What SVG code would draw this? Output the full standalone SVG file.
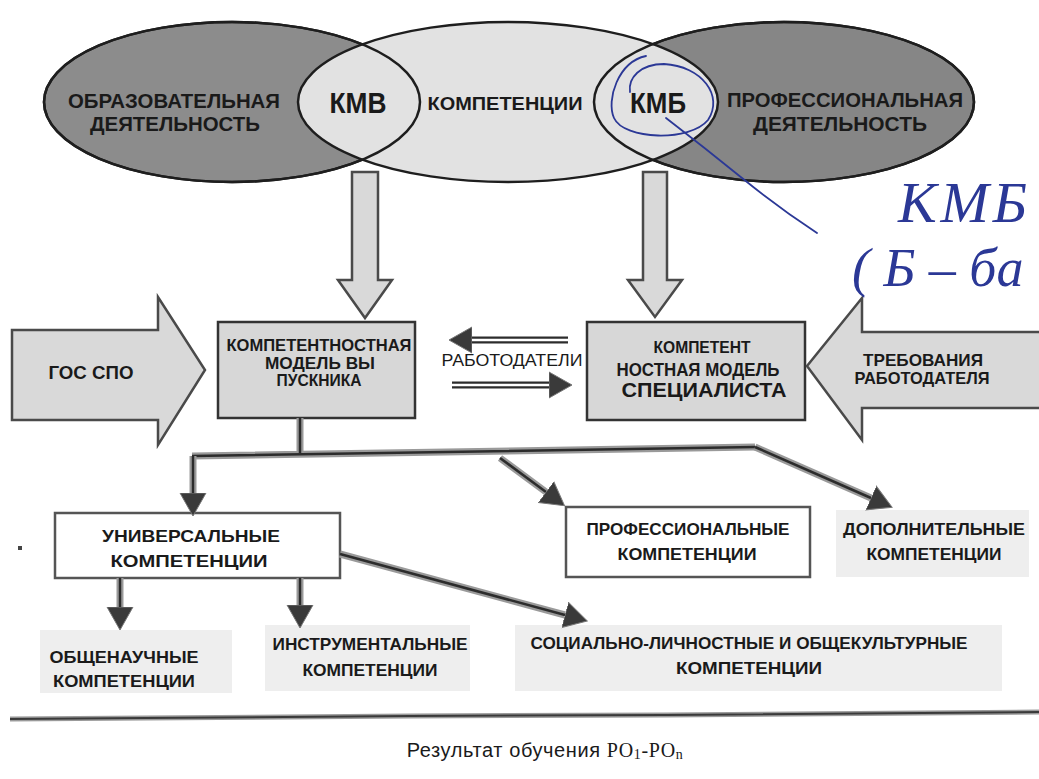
<svg xmlns="http://www.w3.org/2000/svg" width="1039" height="779" viewBox="0 0 1039 779">
<style>
text{font-family:"Liberation Sans",Arial,sans-serif;fill:#1a1a1a;text-anchor:middle}
.b{font-weight:bold}
.ell{stroke:#1e1e1e;stroke-width:2.5}
.blk{fill:#d9d9d9;stroke:#4a4a4a;stroke-width:2.5}
.box{fill:#d7d7d7;stroke:#333;stroke-width:2.5}
.wbox{fill:#fff;stroke:#555;stroke-width:2.5}
.pale{fill:#eeeeee}
.co{fill:none;stroke:#9a9a9a;stroke-width:7}
.ci{fill:none;stroke:#2c2c2c;stroke-width:2.5}
.ro{fill:none;stroke:#2c2c2c;stroke-width:7}
.ri{fill:none;stroke:#fff;stroke-width:2.5}
.ink{fill:none;stroke:#2b3896;stroke-width:1.8;stroke-linecap:round}
.hand{font-family:"Liberation Serif",serif;font-style:italic;fill:#2b3896;text-anchor:start}
</style>
<defs>
<marker id="ah" viewBox="0 -14 24 28" refX="0" refY="0" markerWidth="24" markerHeight="28" markerUnits="userSpaceOnUse" orient="auto">
<path d="M0,-13 L23,0 L0,13 Z" fill="#3a3a3a" stroke="#777" stroke-width="1"/>
</marker>
</defs>

<g id="venn">
<ellipse cx="232" cy="102" rx="188" ry="80" fill="#8c8c8c" class="ell"/>
<ellipse cx="784" cy="102" rx="190" ry="80" fill="#868686" class="ell"/>
<ellipse cx="508" cy="102" rx="210" ry="80" fill="#e2e2e2" class="ell"/>
<ellipse cx="232" cy="102" rx="188" ry="80" fill="none" class="ell"/>
<ellipse cx="784" cy="102" rx="190" ry="80" fill="none" class="ell"/>
<text x="174" y="108" class="b" font-size="21" textLength="212" lengthAdjust="spacingAndGlyphs">ОБРАЗОВАТЕЛЬНАЯ</text>
<text x="175" y="131" class="b" font-size="21" textLength="170" lengthAdjust="spacingAndGlyphs">ДЕЯТЕЛЬНОСТЬ</text>
<text x="358" y="113" class="b" font-size="30" textLength="57" lengthAdjust="spacingAndGlyphs">КМВ</text>
<text x="505" y="110" class="b" font-size="19" textLength="155" lengthAdjust="spacingAndGlyphs">КОМПЕТЕНЦИИ</text>
<text x="658" y="113" class="b" font-size="30" textLength="56" lengthAdjust="spacingAndGlyphs">КМБ</text>
<text x="845" y="107" class="b" font-size="20" textLength="236" lengthAdjust="spacingAndGlyphs">ПРОФЕССИОНАЛЬНАЯ</text>
<text x="840" y="131" class="b" font-size="20" textLength="174" lengthAdjust="spacingAndGlyphs">ДЕЯТЕЛЬНОСТЬ</text>
</g>

<g id="arrow-kmv">
<polygon class="blk" points="352,172 378,172 378,280 392,280 365,318 338,280 352,280"/>
</g>
<g id="arrow-kmb">
<polygon class="blk" points="643,172 667,172 667,280 682,280 655,317 628,280 643,280"/>
</g>

<g id="gos-spo">
<polygon class="blk" points="12,330 158,330 158,297 205,370 158,445 158,420 12,420"/>
<text x="91" y="379" class="b" font-size="18" textLength="85" lengthAdjust="spacingAndGlyphs">ГОС  СПО</text>
</g>

<g id="model-graduate">
<rect class="box" x="218" y="322" width="197" height="96"/>
<text x="319" y="351" class="b" font-size="17" textLength="185" lengthAdjust="spacingAndGlyphs">КОМПЕТЕНТНОСТНАЯ</text>
<text x="320" y="369" class="b" font-size="17" textLength="110" lengthAdjust="spacingAndGlyphs">МОДЕЛЬ ВЫ</text>
<text x="319" y="386" class="b" font-size="17" textLength="85" lengthAdjust="spacingAndGlyphs">ПУСКНИКА</text>
</g>

<g id="model-specialist">
<rect class="box" x="587" y="322" width="218" height="98"/>
<text x="702" y="353" class="b" font-size="17" textLength="97" lengthAdjust="spacingAndGlyphs">КОМПЕТЕНТ</text>
<text x="698" y="376" class="b" font-size="18" textLength="163" lengthAdjust="spacingAndGlyphs">НОСТНАЯ МОДЕЛЬ</text>
<text x="704" y="397" class="b" font-size="20" textLength="165" lengthAdjust="spacingAndGlyphs">СПЕЦИАЛИСТА</text>
</g>

<g id="employer-req">
<polygon class="blk" points="1045,332 862,332 862,298 807,366 862,440 862,408 1045,408"/>
<text x="923" y="366" class="b" font-size="17" textLength="120" lengthAdjust="spacingAndGlyphs">ТРЕБОВАНИЯ</text>
<text x="922" y="384" class="b" font-size="17" textLength="135" lengthAdjust="spacingAndGlyphs">РАБОТОДАТЕЛЯ</text>
</g>

<g id="universal">
<rect class="wbox" x="55" y="513" width="285" height="65"/>
<text x="191" y="542" class="b" font-size="17" textLength="178" lengthAdjust="spacingAndGlyphs">УНИВЕРСАЛЬНЫЕ</text>
<text x="189" y="567" class="b" font-size="17" textLength="157" lengthAdjust="spacingAndGlyphs">КОМПЕТЕНЦИИ</text>
</g>

<g id="professional">
<rect class="wbox" x="566" y="507" width="244" height="70"/>
<text x="688" y="535" class="b" font-size="17" textLength="203" lengthAdjust="spacingAndGlyphs">ПРОФЕССИОНАЛЬНЫЕ</text>
<text x="687" y="560" class="b" font-size="17" textLength="139" lengthAdjust="spacingAndGlyphs">КОМПЕТЕНЦИИ</text>
</g>

<g id="additional">
<rect class="pale" x="836" y="510" width="193" height="67" fill="#f5f5f5"/>
<text x="934" y="535" class="b" font-size="17" textLength="182" lengthAdjust="spacingAndGlyphs">ДОПОЛНИТЕЛЬНЫЕ</text>
<text x="934" y="560" class="b" font-size="17" textLength="135" lengthAdjust="spacingAndGlyphs">КОМПЕТЕНЦИИ</text>
</g>

<g id="general-science">
<rect class="pale" x="40" y="630" width="192" height="63" fill="#e8e8e8"/>
<text x="124" y="663" class="b" font-size="17" textLength="149" lengthAdjust="spacingAndGlyphs">ОБЩЕНАУЧНЫЕ</text>
<text x="124" y="687" class="b" font-size="17" textLength="142" lengthAdjust="spacingAndGlyphs">КОМПЕТЕНЦИИ</text>
</g>

<g id="instrumental">
<rect class="pale" x="265" y="625" width="205" height="66" fill="#e8e8e8"/>
<text x="370" y="650" class="b" font-size="17" textLength="195" lengthAdjust="spacingAndGlyphs">ИНСТРУМЕНТАЛЬНЫЕ</text>
<text x="370" y="676" class="b" font-size="17" textLength="135" lengthAdjust="spacingAndGlyphs">КОМПЕТЕНЦИИ</text>
</g>

<g id="social">
<rect class="pale" x="515" y="625" width="487" height="66" fill="#e8e8e8"/>
<text x="749" y="649" class="b" font-size="17" textLength="437" lengthAdjust="spacingAndGlyphs">СОЦИАЛЬНО-ЛИЧНОСТНЫЕ И ОБЩЕКУЛЬТУРНЫЕ</text>
<text x="749" y="674" class="b" font-size="17" textLength="146" lengthAdjust="spacingAndGlyphs">КОМПЕТЕНЦИИ</text>
</g>

<g id="connectors">
<path class="ro" d="M568,340 L472,340"/>
<path class="ri" d="M568,340 L472,340" marker-end="url(#ah)"/>
<path class="ro" d="M452,385 L549,385"/>
<path class="ri" d="M452,385 L549,385" marker-end="url(#ah)"/>
<text x="512" y="366" font-size="16" textLength="141" lengthAdjust="spacingAndGlyphs">РАБОТОДАТЕЛИ</text>

<path class="co" d="M300,418 L300,453 M192,456 L755,447"/>
<path class="ci" d="M300,418 L300,453 M192,456 L755,447"/>
<path class="co" d="M193,456 L193,493"/>
<path class="ci" d="M193,456 L193,493" marker-end="url(#ah)"/>
<path class="co" d="M500,458 L546,492"/>
<path class="ci" d="M500,458 L546,492" marker-end="url(#ah)"/>
<path class="co" d="M755,447 L871,498"/>
<path class="ci" d="M755,447 L871,498" marker-end="url(#ah)"/>
<path class="co" d="M120,578 L120,607"/>
<path class="ci" d="M120,578 L120,607" marker-end="url(#ah)"/>
<path class="co" d="M300,578 L300,605"/>
<path class="ci" d="M300,578 L300,605" marker-end="url(#ah)"/>
<path class="co" d="M340,554 L565,615"/>
<path class="ci" d="M340,554 L565,615" marker-end="url(#ah)"/>
</g>

<g id="result">
<path d="M10,719 L145,718 L410,716 L665,715 L1039,712" fill="none" stroke="#9a9a9a" stroke-width="5"/>
<path d="M10,719 L145,718 L410,716 L665,715 L1039,712" fill="none" stroke="#3a3a3a" stroke-width="2"/>
<text x="545" y="757" font-size="20" letter-spacing="0.6">Результат обучения <tspan font-family="Liberation Serif">РО</tspan><tspan font-family="Liberation Serif" font-size="14" dy="2">1</tspan><tspan font-family="Liberation Serif" dy="-2">-РО</tspan><tspan font-family="Liberation Serif" font-size="14" dy="2">n</tspan></text>
</g>

<rect x="18" y="546" width="4" height="4" fill="#444"/>

<g id="handwriting">
<path class="ink" d="M646,56 C618,62 606,100 614,118 C624,140 690,142 708,120 C724,96 702,66 664,64 C640,64 628,78 630,92"/>
<path class="ink" d="M666,118 Q705,148 742,178 T817,233"/>
<text class="hand" x="898" y="222" font-size="58" letter-spacing="4">КМБ</text>
<text class="hand" x="852" y="286" font-size="54">( Б – ба</text>
</g>
</svg>
